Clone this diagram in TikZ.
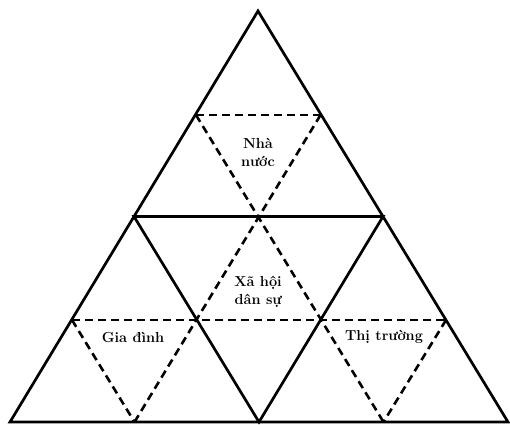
\documentclass[tikz,border=0pt]{standalone}
\usepackage{fontspec}
\setmainfont{Latin Modern Roman}
\begin{document}
\begin{tikzpicture}[x=1pt,y=-1pt,
  solidline/.style={line width=2.7pt,line join=miter},
  dashline/.style={line width=2.6pt,dash pattern=on 8pt off 5pt},
  lbl/.style={font=\fontsize{14.5}{18}\selectfont\bfseries,align=center,inner sep=0pt}]
\useasboundingbox (0,0) rectangle (510,424);
% main vertices
\coordinate (A) at (258,11);
\coordinate (L) at (10,422);
\coordinate (R) at (508,422);
\coordinate (ML) at (134,216.5);
\coordinate (MR) at (383,216.5);
\coordinate (MB) at (259,422);
% dashed vertices
\coordinate (T1) at (196,115);
\coordinate (T2) at (320.5,115);
\coordinate (C) at (258.5,216.5);
\coordinate (D1) at (72,320);
\coordinate (D2) at (196.5,320);
\coordinate (D3) at (321,320);
\coordinate (D4) at (446,320);
\coordinate (B1) at (134.5,422);
\coordinate (B2) at (383.5,422);
% solid lines
\draw[solidline] (A) -- (L) -- (R) -- cycle;
\draw[solidline] (ML) -- (MR) -- (MB) -- cycle;
% dashed lines
\draw[dashline] (T1) -- (T2);
\draw[dashline] (D1) -- (D4);
\draw[dashline] (T1) -- (B2);
\draw[dashline] (T2) -- (B1);
\draw[dashline] (D1) -- (B1);
\draw[dashline] (D4) -- (B2);
% labels
\node[lbl] (nn) at (258,152) {Nhà\\nước};
\node[lbl] (xh) at (258,292) {Xã hội\\dân sự};
\node[lbl] (gd) at (133,337) {Gia đình};
\node[lbl] (tt) at (384,337) {Thị trường};
\end{tikzpicture}
\end{document}
